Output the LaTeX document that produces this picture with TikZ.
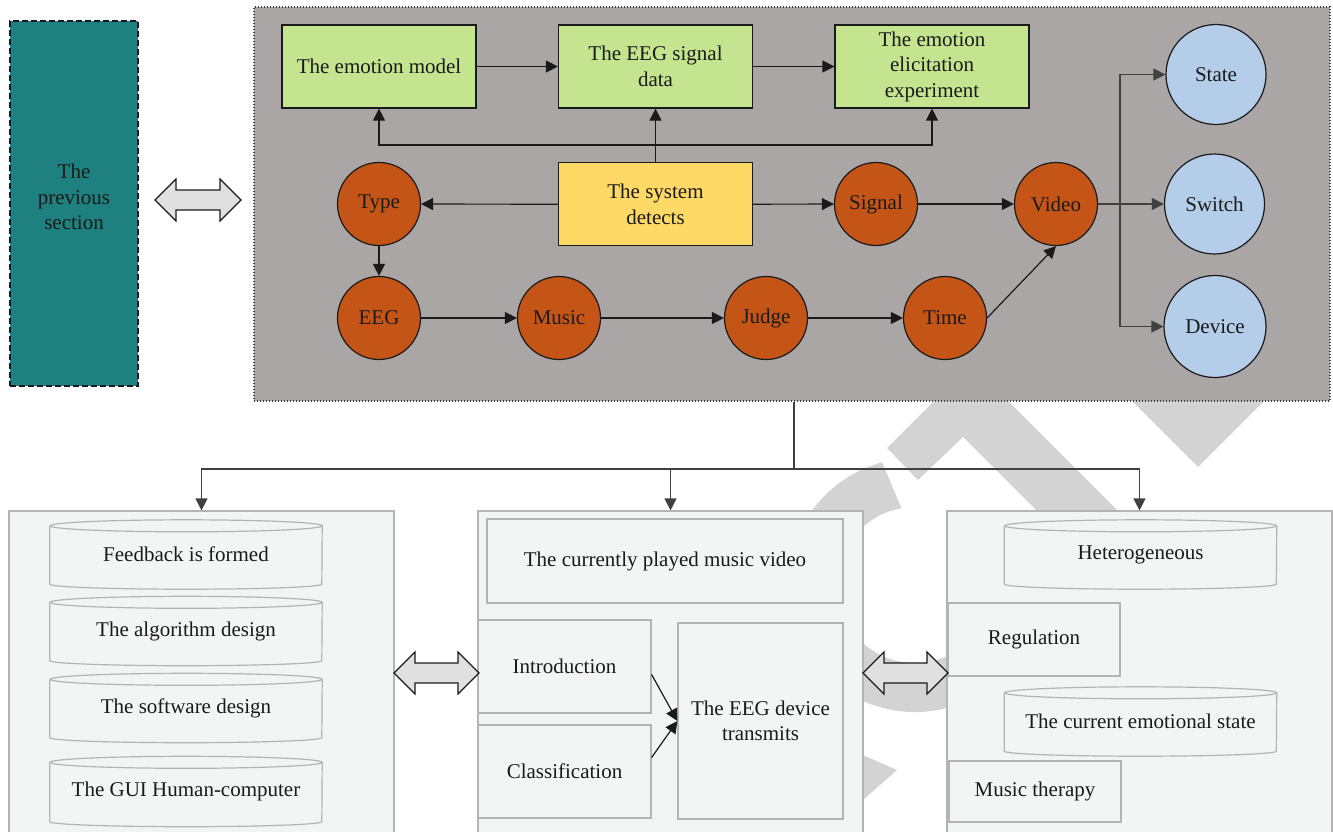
\documentclass[tikz,border=0pt]{standalone}
\usepackage{fontspec}
\setmainfont{Liberation Serif}
\usepackage{tikz}
\usetikzlibrary{arrows.meta,positioning,calc}

\definecolor{tealbox}{RGB}{30,128,127}
\definecolor{panelgrey}{RGB}{170,166,165}
\definecolor{leafgreen}{RGB}{197,228,143}
\definecolor{sunyellow}{RGB}{255,217,102}
\definecolor{rust}{RGB}{197,85,22}
\definecolor{skyblue}{RGB}{180,205,233}
\definecolor{paper}{RGB}{243,244,244}
\definecolor{rim}{RGB}{180,180,180}
\definecolor{stampgrey}{RGB}{211,211,211}
\definecolor{arrowgrey}{RGB}{224,224,224}
\definecolor{ink}{RGB}{26,26,26}
\definecolor{wire}{RGB}{64,64,64}

\tikzset{
  txt/.style={font=\fontsize{21}{25.5}\selectfont, text=ink, align=center},
  tealpanel/.style={draw=ink, fill=tealbox, line width=1.2pt, dash pattern=on 6pt off 3pt, minimum width=128, minimum height=365},
  corepanel/.style={draw=wire, fill=panelgrey, line width=1.1pt, dash pattern=on 1pt off 2pt, minimum width=1076, minimum height=394},
  greenbox/.style={txt, draw=ink, line width=1.2pt, fill=leafgreen, minimum width=194, minimum height=83, inner sep=1pt},
  yellowbox/.style={greenbox, fill=sunyellow},
  rustdot/.style={txt, circle, draw=ink, line width=1.2pt, fill=rust, minimum size=83, inner sep=0pt},
  bluedot/.style={rustdot, fill=skyblue, minimum size=100},
  lowpanel/.style={draw=rim, fill=paper, line width=1.2pt, minimum width=385, minimum height=334},
  plainbox/.style={txt, draw=rim, fill=paper, line width=1.2pt, inner sep=1pt},
  drum/.style={txt, fill=paper, minimum width=272, minimum height=69, inner sep=1pt},
  drumline/.style={draw=rim, line width=1.2pt},
  link/.style={draw=ink, line width=1.2pt, -{Triangle[length=12pt,width=12pt]}},
  greylink/.style={link, draw=wire},
  twoway/.style={draw=ink, fill=arrowgrey, line width=1.2pt, line join=miter}
}

\newcommand{\twoway}[3]{%
  \draw[twoway] (#1,#3) -- ++(21,-21) -- ++(0,11) -- (#2-21,#3-10) -- ++(0,-11) -- (#2,#3)
    -- ++(-21,21) -- ++(0,-11) -- (#1+21,#3+10) -- ++(0,11) -- cycle;}

\begin{document}
\begin{tikzpicture}[x=1pt,y=-1pt]
\useasboundingbox (0,0) rectangle (1333,831);
\clip (0,0) rectangle (1333,831);

% watermark pieces
\fill[stampgrey] ([shift={(105:127pt)}]915,585) arc[start angle=105,end angle=350,radius=127pt]
  -- ([shift={(350:78pt)}]915,585) arc[start angle=350,end angle=100,radius=78pt] -- cycle;
\fill[stampgrey] (887,448) -- (971,364) -- (1125,518) -- (1051,525) -- (963,437) -- (918,480) -- cycle;
\fill[stampgrey] (1116,385) -- (1198,467) -- (1280,385) -- cycle;
\fill[stampgrey] (840,745) -- (897,770) -- (840,820) -- cycle;

\node[corepanel] (core) at (792,204) {};
\node[tealpanel] (prev) at (74,203.5) {};
\node[txt] (prevtext) at (74,197) {The\\previous\\section};
\twoway{155}{241}{200}

\node[greenbox] (emo) at (379,66.5) {The emotion model};
\node[greenbox] (eegdata) at (655.5,66.5) {The EEG signal\\data};
\node[greenbox] (elic) at (932,66.5) {The emotion\\elicitation\\experiment};
\node[yellowbox] (detect) at (655.5,204.3) {The system\\detects};

\node[rustdot] (type) at (379,204) {Type};
\node[rustdot] (signal) at (876,204) {Signal};
\node[rustdot] (video) at (1056,204) {Video};
\node[rustdot] (eeg) at (379,318) {EEG};
\node[rustdot] (music) at (559,318) {Music};
\node[rustdot] (judge) at (766,318) {Judge};
\node[rustdot] (time) at (945,318) {Time};

\node[bluedot] (state) at (1216,74.5) {State};
\node[bluedot] (switch) at (1214.5,204) {Switch};
\node[bluedot, minimum size=102] (device) at (1215,326.5) {Device};

\draw[link] (emo) -- (eegdata);
\draw[link] (eegdata) -- (elic);
\draw[link] (detect) -- (eegdata);
\coordinate (fork) at (655.5,145);
\draw[link] (fork) -| (emo.south);
\draw[link] (fork) -| (elic.south);
\draw[link] (detect) -- (type);
\draw[link] (detect) -- (signal);
\draw[link] (signal) -- (video);
\draw[link] (type) -- (eeg);
\draw[link] (eeg) -- (music);
\draw[link] (music) -- (judge);
\draw[link] (judge) -- (time);
\draw[link] (time.east) -- (video.south);
\coordinate (split) at (1120,204);
\draw[greylink] (video) -- (switch);
\draw[greylink] (split) |- (state);
\draw[greylink] (split) |- (device);

\node[lowpanel] (leftp) at (201.5,678) {};
\node[lowpanel] (midp) at (670.5,678) {};
\node[lowpanel] (rightp) at (1139.5,678) {};

\coordinate (drop) at (794,469);
\draw[draw=wire, line width=1.2pt] (core.south -| drop) -- (drop);
\draw[greylink] (drop) -| (leftp.north);
\draw[greylink] (drop) -| (midp.north);
\draw[greylink] (drop) -| (rightp.north);

\node[drum] (fb) at (186,554.5) {Feedback is formed};
\node[drum] (alg) at (186,631) {The algorithm design};
\node[drum] (sw) at (186,708) {The software design};
\node[drum, minimum height=70] (gui) at (186,791.5) {The GUI Human-computer};
\node[drum] (het) at (1140.5,554.5) {Heterogeneous};
\node[drum] (cur) at (1140.5,721.5) {The current emotional state};
\foreach \d in {fb,alg,sw,gui,het,cur}
  \draw[drumline] ([yshift=-6pt]\d.north west) -- ([yshift=5pt]\d.south west)
    arc[start angle=180,end angle=360,x radius=136pt,y radius=5pt]
    -- ([yshift=-6pt]\d.north east)
    arc[start angle=0,end angle=180,x radius=136pt,y radius=6pt]
    arc[start angle=180,end angle=360,x radius=136pt,y radius=6pt];

\node[plainbox, minimum width=356, minimum height=84] (clipbox) at (665,561) {The currently played music video};
\node[plainbox, minimum width=173, minimum height=93] (intro) at (564.5,666.5) {Introduction};
\node[plainbox, minimum width=173, minimum height=93] (classif) at (564.5,771.5) {Classification};
\node[plainbox, minimum width=165, minimum height=196] (transmit) at (760.5,721) {The EEG device\\transmits};
\node[plainbox, minimum width=172, minimum height=73] (regul) at (1034,639.5) {Regulation};
\node[plainbox, minimum width=172, minimum height=61] (therapy) at (1035,791.5) {Music therapy};

\draw[link] ([yshift=-8pt]intro.east) -- (transmit.west);
\draw[link] ([yshift=14pt]classif.east) -- (transmit.west);

\twoway{394}{479}{673}
\twoway{863}{948}{673}
\end{tikzpicture}
\end{document}
